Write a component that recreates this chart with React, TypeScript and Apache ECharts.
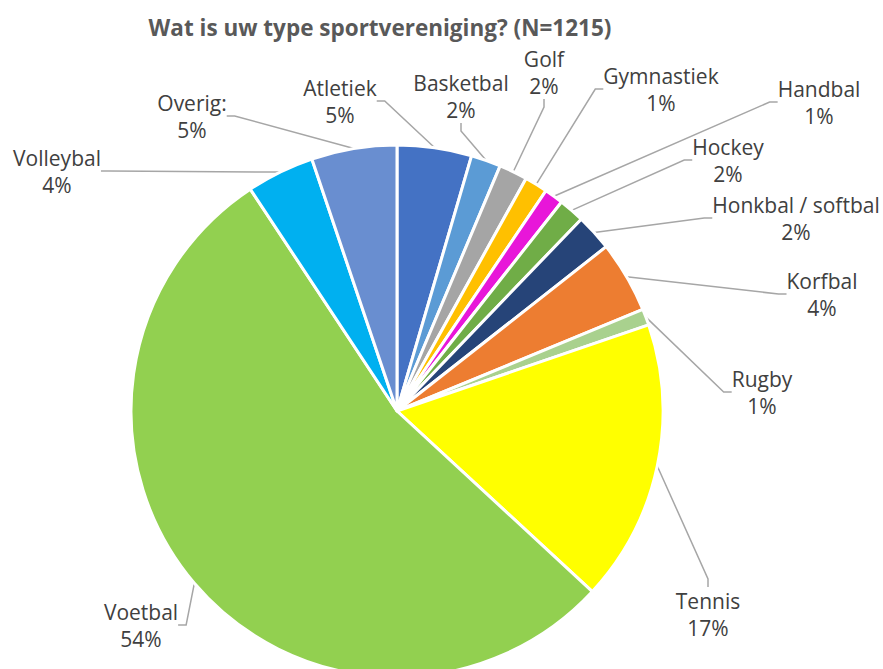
import React, { useEffect, useRef } from "react";
import * as echarts from "echarts";

const categories = [
  "Atletiek",
  "Basketbal",
  "Golf",
  "Gymnastiek",
  "Handbal",
  "Hockey",
  "Honkbal / softbal",
  "Korfbal",
  "Rugby",
  "Tennis",
  "Voetbal",
  "Volleybal",
  "Overig:",
];
const counts = [55, 22, 21, 17, 14, 19, 27, 53, 12, 208, 654, 50, 63];
const colors = [
  "#4472C4",
  "#5B9BD5",
  "#A5A5A5",
  "#FFC000",
  "#E816D9",
  "#70AD47",
  "#264478",
  "#ED7D31",
  "#A9D18E",
  "#FFFF00",
  "#92D050",
  "#00B0F0",
  "#698ED0",
];
// label block centres (layout, not data)
const labelPos: [number, number][] = [
  [340, 101],
  [461, 96],
  [544, 72],
  [661, 89],
  [819, 102],
  [728, 160],
  [796, 218],
  [822, 294],
  [762, 392],
  [708, 614],
  [141, 625],
  [57, 171],
  [192, 116],
];

const FONT = "'Open Sans', 'Noto Sans', sans-serif";

export default function App() {
  const ref = useRef<HTMLDivElement>(null);
  useEffect(() => {
    if (!ref.current) return;
    const chart = echarts.init(ref.current, null, { renderer: "svg" });
    chart.setOption({
      animation: false,
      backgroundColor: "#ffffff",
      title: {
        text: "Wat is uw type sportvereniging? (N=1215)",
        left: 375,
        top: 11,
        textAlign: "center",
        textStyle: {
          fontFamily: FONT,
          fontWeight: "bold",
          fontSize: 22.5,
          color: "#595959",
        },
      },
      series: [
        {
          type: "pie",
          center: [397, 411],
          radius: 266,
          startAngle: 90,
          clockwise: true,
          avoidLabelOverlap: false,
          itemStyle: { borderColor: "#ffffff", borderWidth: 3 },
          label: {
            show: true,
            position: "outside",
            fontFamily: FONT,
            fontSize: 21,
            lineHeight: 27,
            color: "#404040",
            align: "center",
            formatter: (p: any) => `${p.name}\n${Math.round(p.percent)}%`,
          },
          labelLine: {
            show: true,
            length: 10,
            length2: 8,
            lineStyle: { color: "#A6A6A6", width: 1.5 },
          },
          labelLayout: (params: any) => {
            const pos = labelPos[params.dataIndex];
            return {
              x: pos[0],
              y: pos[1],
              align: "center",
              verticalAlign: "middle",
            };
          },
          emphasis: { disabled: true },
          data: categories.map((name, i) => ({
            name,
            value: counts[i],
            itemStyle: { color: colors[i] },
          })),
        },
      ],
    });
    return () => chart.dispose();
  }, []);
  return (
    <div
      ref={ref}
      style={{ position: "absolute", left: 0, top: 0, width: 883, height: 669 }}
    />
  );
}
